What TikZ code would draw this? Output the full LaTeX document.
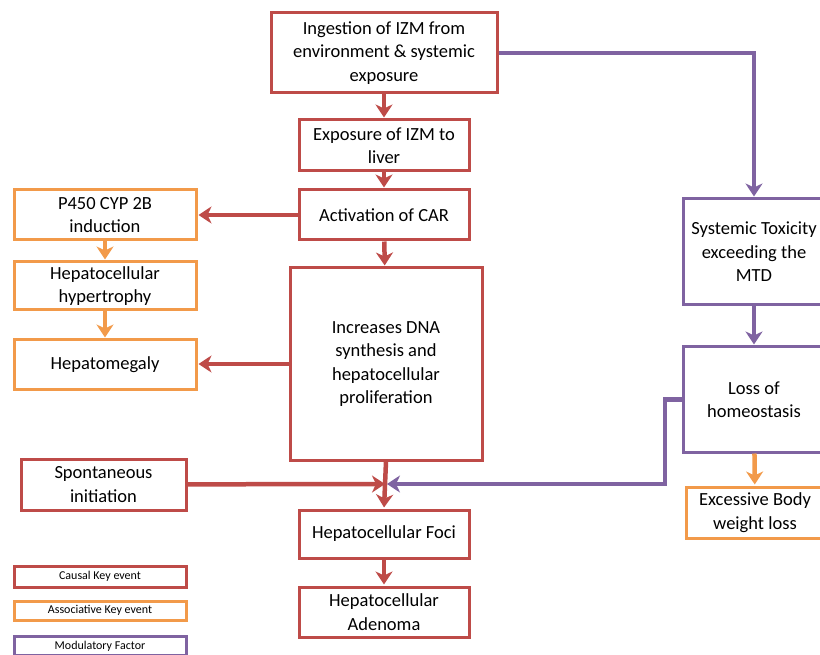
\documentclass[tikz,border=0pt]{standalone}
\usepackage{fontspec}
\setmainfont{Carlito}
\usepackage{xcolor}
\definecolor{keyRed}{HTML}{BE4B48}
\definecolor{keyOrange}{HTML}{F29A4A}
\definecolor{keyPurple}{HTML}{7F63A1}
\usetikzlibrary{arrows.meta, positioning}

\begin{document}
\begin{tikzpicture}[
    x=1pt, y=-1pt,
    causal/.style={rectangle, draw=keyRed, fill=white, line width=3pt,
                  align=center, inner sep=2pt, font=\fontsize{18.5}{23.5}\selectfont},
    assoc/.style ={rectangle, draw=keyOrange, fill=white, line width=3pt,
                  align=center, inner sep=2pt, font=\fontsize{18.5}{23.5}\selectfont},
    modul/.style ={rectangle, draw=keyPurple, fill=white, line width=3pt,
                  align=center, inner sep=2pt, font=\fontsize{18.5}{23.5}\selectfont},
    keybox/.style={rectangle, fill=white, line width=3pt, minimum width=172pt,
                  align=center, inner sep=1pt, font=\fontsize{12}{14}\selectfont},
    arrow/.style ={-{Stealth[length=13pt,width=17pt,inset=4pt]}, line width=4.5pt,
                  color=keyRed, shorten >=1pt}
]
\useasboundingbox (0,0) rectangle (820,655);

% main chain
\node[causal, minimum width=226pt, minimum height=80pt] (ingest) at (384,53)
    {Ingestion of IZM from\\environment \& systemic\\exposure};
\node[causal, minimum width=170pt, minimum height=51pt] (expo) at (384,145.5)
    {Exposure of IZM to\\liver};
\node[causal, minimum width=170pt, minimum height=50pt] (car) at (384,215)
    {Activation of CAR};
\node[causal, minimum width=192pt, minimum height=192pt] (dna) at (386,364)
    {Increases DNA\\synthesis and\\hepatocellular\\proliferation};
\node[causal, minimum width=170pt, minimum height=48pt] (foci) at (384,534)
    {Hepatocellular Foci};
\node[causal, minimum width=170pt, minimum height=50pt] (adenoma) at (384,612)
    {Hepatocellular\\Adenoma};
\coordinate (join) at (386,484);

% associative events
\node[assoc, minimum width=182pt, minimum height=50pt] (cyp) at (105,215)
    {P450 CYP 2B\\induction};
\node[assoc, minimum width=182pt, minimum height=48pt] (hyper) at (105,286)
    {Hepatocellular\\hypertrophy};
\node[assoc, minimum width=182pt, minimum height=49pt] (hepmeg) at (105,364.5)
    {Hepatomegaly};
\node[causal, minimum width=165pt, minimum height=51pt] (spont) at (103.5,484.5)
    {Spontaneous\\initiation};

% modulatory side
\node[modul, minimum width=142pt, minimum height=106pt] (systox) at (754,252)
    {Systemic Toxicity\\exceeding the\\MTD};
\node[modul, minimum width=142pt, minimum height=105pt] (homeo) at (754,399.5)
    {Loss of\\homeostasis};
\node[assoc, minimum width=138pt, minimum height=51pt] (bwloss) at (755,512.5)
    {Excessive Body\\weight loss};
\coordinate (kink) at (665,484);

% legend
\node[keybox, draw=keyRed, minimum height=21pt] (keyc) at (100,576.5) {Causal Key event};
\node[keybox, draw=keyOrange, minimum height=19pt] (keya) at (100,610.5) {Associative Key event};
\node[keybox, draw=keyPurple, minimum height=19pt] (keym) at (100,646) {Modulatory Factor};

\draw[arrow] (ingest) -- (expo);
\draw[arrow] (expo) -- (car);
\draw[arrow] (car) -- (dna);
\draw[arrow] (car) -- (cyp);
\draw[arrow] (dna.west) -- (dna.west -| hepmeg.east);
\draw[arrow, color=keyOrange] (cyp) -- (hyper);
\draw[arrow, color=keyOrange] (hyper) -- (hepmeg);
\draw[arrow] (dna.south) -- (foci.north);
\draw[arrow] (spont) -- (join);
\draw[arrow] (foci) -- (adenoma);

\draw[arrow, color=keyPurple] (ingest.east) -| (systox.north);
\draw[arrow, color=keyPurple] (systox) -- (homeo);
\draw[arrow, color=keyPurple] (homeo.west) -| (kink) -- (join);
\draw[arrow, color=keyOrange] (homeo) -- (bwloss);
\end{tikzpicture}
\end{document}
